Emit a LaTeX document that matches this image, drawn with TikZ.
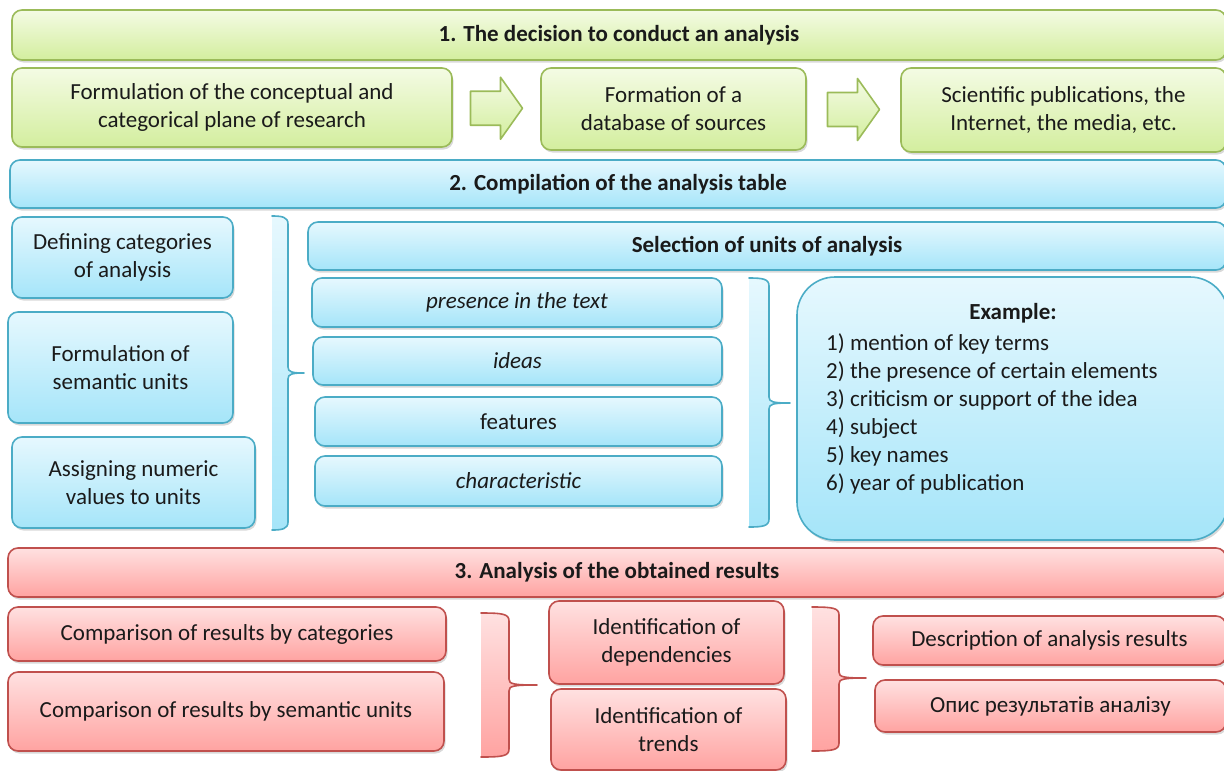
\documentclass[tikz,border=0pt]{standalone}
\usepackage{fontspec}
\setmainfont{Carlito}
\usetikzlibrary{calc,shadows}
\definecolor{grnline}{HTML}{9BBB59}
\definecolor{grntop}{HTML}{F4FBE4}
\definecolor{grnbot}{HTML}{D3EE9E}
\definecolor{bluline}{HTML}{4BACC6}
\definecolor{blutop}{HTML}{E6F8FE}
\definecolor{blubot}{HTML}{A5E5F9}
\definecolor{redline}{HTML}{C0504D}
\definecolor{redtop}{HTML}{FFE1E1}
\definecolor{redbot}{HTML}{FFA3A1}
\definecolor{txt}{HTML}{1A1A1A}
\def\bodyfont{\fontsize{23}{28}\selectfont}
\tikzset{
  box/.style={rounded corners=10pt, line width=1.6pt, inner sep=0pt, align=center, text=txt,
    drop shadow={opacity=0.3,shadow xshift=1.5pt,shadow yshift=-2.5pt}},
  gbox/.style={box, draw=grnline, top color=grntop, bottom color=grnbot},
  bbox/.style={box, draw=bluline, top color=blutop, bottom color=blubot},
  rbox/.style={box, draw=redline, top color=redtop, bottom color=redbot},
  head/.style={font=\bodyfont\bfseries},
  garrow/.style={line width=1.6pt, line join=round, draw=grnline, top color=grntop, bottom color=grnbot},
  brace/.style={line width=1.6pt, line join=round, line cap=round},
}
% #1 colour, #2 left, #3 right, #4 tip x, #5 top, #6 bottom, #7 tip y
\newcommand\sidebrace[7]{%
  \path[top color=#1top, bottom color=#1bot]
    (#2,#5) .. controls (#3-6,#5) and (#3,#5+1) .. (#3,#5+8) -- (#3,#7-6)
    .. controls (#3,#7-1) and (#3+4,#7) .. (#4,#7)
    .. controls (#3+4,#7) and (#3,#7+1) .. (#3,#7+6) -- (#3,#6-8)
    .. controls (#3,#6-1) and (#3-6,#6) .. (#2,#6) -- cycle;
  \draw[brace, draw=#1line]
    (#2,#5) .. controls (#3-6,#5) and (#3,#5+1) .. (#3,#5+8) -- (#3,#7-6)
    .. controls (#3,#7-1) and (#3+4,#7) .. (#4,#7)
    .. controls (#3+4,#7) and (#3,#7+1) .. (#3,#7+6) -- (#3,#6-8)
    .. controls (#3,#6-1) and (#3-6,#6) .. (#2,#6);
}
\begin{document}
\begin{tikzpicture}[x=1pt, y=-1pt, font=\bodyfont]
\useasboundingbox (0,0) rectangle (1224,771);
\clip (0,0) rectangle (1224,771);
% 1. decision
\node[gbox, head, minimum width=1214pt, minimum height=50pt] (s1) at (619,35) {1. The decision to conduct an analysis};
\node[gbox, minimum width=440pt, minimum height=79pt] (form) at (232,107.5) {Formulation of the conceptual and\\categorical plane of research};
\node[gbox, minimum width=265pt, minimum height=82pt] (dbase) at (673.5,109) {Formation of a\\database of sources};
\node[gbox, minimum width=325pt, minimum height=84pt] (sources) at (1063.5,110) {Scientific publications, the\\Internet, the media, etc.};
\coordinate (ar1) at ($(form.east)!0.5!(dbase.west)$);
\coordinate (ar2) at ($(dbase.east)!0.5!(sources.west)$);
\foreach \a in {ar1,ar2}
  \path[garrow] ($(\a)+(-26,-17)$) -- ++(30,0) -- ++(0,-14) -- ++(22,31) -- ++(-22,31) -- ++(0,-14) -- ++(-30,0) -- cycle;
% 2. compilation
\node[bbox, head, minimum width=1216pt, minimum height=48pt] (s2) at (618,184) {2. Compilation of the analysis table};
\node[bbox, minimum width=221pt, minimum height=81pt] (defcat) at (122.5,257.5) {Defining categories\\of analysis};
\node[bbox, minimum width=225pt, minimum height=111pt] (semu) at (120.5,367.5) {Formulation of\\semantic units};
\node[bbox, minimum width=243pt, minimum height=91pt] (numv) at (133.5,482.5) {Assigning numeric\\values to units};
\sidebrace{blu}{272}{288}{304}{216}{530}{373}
\node[bbox, head, minimum width=918pt, minimum height=48pt] (sel) at (767,246) {Selection of units of analysis};
\node[bbox, minimum width=410pt, minimum height=49pt] (pres) at (517,302.5) {\itshape presence in the text};
\node[bbox, minimum width=409pt, minimum height=48pt] (ideas) at (517.5,361) {\itshape ideas};
\node[bbox, minimum width=407pt, minimum height=49pt] (feat) at (518.5,421.5) {features};
\node[bbox, minimum width=407pt, minimum height=50pt] (chars) at (518.5,481) {\itshape characteristic};
\sidebrace{blu}{749}{769}{790}{278}{527}{403}
\node[bbox, rounded corners=38pt, minimum width=431pt, minimum height=263pt] (ex) at (1012.5,408.5) {};
\node[head, text=txt] (extitle) at (1013,313) {Example:};
\node[anchor=north west, inner sep=0pt, align=left, text=txt] (exlist) at (826,333)
  {1) mention of key terms\\2) the presence of certain elements\\3) criticism or support of the idea\\4) subject\\5) key names\\6) year of publication};
% 3. results
\node[rbox, head, minimum width=1218pt, minimum height=49pt] (s3) at (617,572.5) {3. Analysis of the obtained results};
\node[rbox, minimum width=438pt, minimum height=54pt] (compcat) at (227,634) {Comparison of results by categories};
\node[rbox, minimum width=436pt, minimum height=79pt] (compsem) at (226,711.5) {Comparison of results by semantic units};
\sidebrace{red}{481}{509}{537}{613}{757}{685}
\node[rbox, minimum width=235pt, minimum height=83pt] (dep) at (666.5,642.5) {Identification of\\dependencies};
\node[rbox, minimum width=235pt, minimum height=81pt] (trends) at (668.5,729.5) {Identification of\\trends};
\sidebrace{red}{812}{839}{866}{607}{751}{678}
\node[rbox, minimum width=353pt, minimum height=49pt] (desc) at (1049.5,640.5) {Description of analysis results};
\node[rbox, minimum width=351pt, minimum height=52pt] (opys) at (1050.5,706) {Опис результатів аналізу};
\end{tikzpicture}
\end{document}
